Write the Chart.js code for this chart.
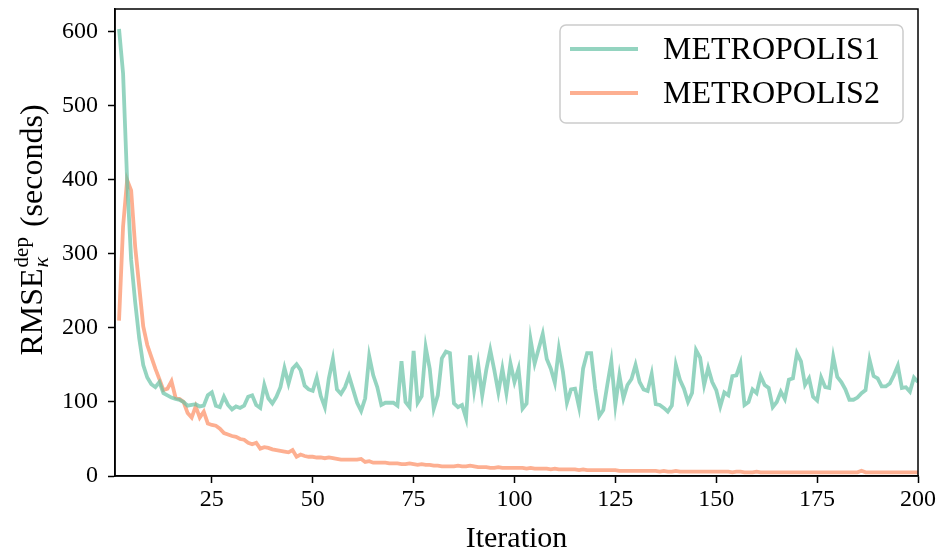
<!DOCTYPE html>
<html>
<head>
<meta charset="utf-8">
<script src="https://cdn.jsdelivr.net/npm/chart.js@4.4.0/dist/chart.umd.min.js"></script>
<style>
  html, body { margin: 0; padding: 0; background: #fff; }
  #wrap { width: 941px; height: 554px; }
</style>
</head>
<body>
<div id="wrap"><canvas id="rmseChart"></canvas></div>
<script>
// iterations 2..200
const iterations = Array.from({ length: 199 }, (_, i) => i + 2);

const metropolis1 = [
    604, 544, 400, 292, 235, 186, 150, 133, 124, 120, 127, 112, 109, 106, 104, 103, 100, 95, 96,
    97, 94, 95, 109, 113, 95, 93, 107, 96, 90, 94, 92, 95, 107, 109, 96, 92, 123, 105, 98,
    107, 120, 146, 125, 145, 151, 143, 122, 117, 115, 133, 108, 93, 132, 158, 117, 111, 120, 135,
    117, 99, 88, 105, 162, 136, 120, 96, 99, 99, 99, 95, 155, 100, 93, 169, 99, 108, 174, 145,
    91, 109, 159, 168, 166, 98, 93, 96, 78, 163, 116, 151, 109, 143, 170, 143, 113, 145, 112,
    152, 127, 145, 91, 98, 184, 152, 172, 192, 158, 145, 126, 172, 141, 99, 117, 118, 93, 145,
    166, 166, 118, 81, 89, 123, 155, 96, 136, 105, 123, 131, 150, 127, 117, 115, 138, 97, 96,
    92, 87, 95, 150, 130, 118, 100, 112, 170, 160, 123, 146, 127, 116, 94, 113, 109, 135, 136,
    152, 96, 100, 117, 112, 135, 123, 119, 93, 100, 114, 104, 130, 132, 166, 155, 123, 132, 107,
    102, 133, 120, 119, 161, 134, 127, 117, 103, 103, 106, 112, 116, 157, 135, 132, 121, 121, 125,
    136, 149, 119, 120, 114, 133, 127
];

const metropolis2 = [
    210, 337, 400, 386, 310, 256, 202, 177, 161, 145, 131, 116, 118, 128, 106, 104, 100, 85, 79,
    94, 79, 87, 71, 69, 68, 64, 58, 56, 54, 53, 50, 49, 45, 43, 45, 37, 39, 38, 36,
    35, 34, 33, 32, 35, 26, 29, 27, 26, 26, 25, 25, 24, 25, 24, 23, 22, 22, 22,
    22, 22, 23, 19, 20, 18, 18, 18, 18, 17, 17, 17, 16, 16, 17, 16, 15, 16, 15, 15,
    14, 14, 13, 13, 13, 13, 14, 13, 13, 14, 13, 12, 12, 12, 11, 11, 12, 11, 11,
    11, 11, 11, 11, 10, 11, 10, 10, 10, 10, 9, 10, 9, 9, 9, 9, 9, 8, 9,
    8, 8, 8, 8, 8, 8, 8, 8, 7, 7, 7, 7, 7, 7, 7, 7, 7, 7, 6,
    7, 6, 6, 7, 6, 6, 6, 6, 6, 6, 6, 6, 6, 6, 6, 6, 6, 5, 6,
    6, 5, 5, 5, 6, 5, 5, 5, 5, 5, 5, 5, 5, 5, 5, 5, 5, 5, 5,
    5, 5, 5, 5, 5, 5, 5, 5, 5, 5, 5, 7, 5, 5, 5, 5, 5, 5, 5,
    5, 5, 5, 5, 5, 5, 5
];

const xTicks = [25, 50, 75, 100, 125, 150, 175, 200];
const yTicks = [0, 100, 200, 300, 400, 500, 600];

const seriesNames = ['METROPOLIS1', 'METROPOLIS2'];
const seriesColors = ['rgba(102, 194, 165, 0.7)', 'rgba(252, 141, 98, 0.7)'];

const serif = "'Liberation Serif', 'DejaVu Serif', serif";

// black box round the plot area
const framePlugin = {
    id: 'frame',
    afterDatasetsDraw(chart) {
        const { ctx, chartArea: a } = chart;
        ctx.save();
        ctx.strokeStyle = '#000';
        ctx.lineWidth = 1.5;
        ctx.strokeRect(a.left, a.top, a.right - a.left, a.bottom - a.top);
        ctx.restore();
    }
};

// y title with super/subscript
const yTitlePlugin = {
    id: 'yTitle',
    afterDraw(chart) {
        const { ctx, chartArea: a } = chart;
        const cy = (a.top + a.bottom) / 2 - 12;
        ctx.save();
        ctx.translate(31, cy);
        ctx.rotate(-Math.PI / 2);
        ctx.fillStyle = '#000';
        ctx.textBaseline = 'alphabetic';
        ctx.textAlign = 'left';
        const big = '32px ' + serif, small = '21px ' + serif, smallIt = 'italic 22px ' + serif;
        ctx.font = big;
        const w1 = ctx.measureText('RMSE').width;
        const w3 = ctx.measureText(' (seconds)').width;
        ctx.font = small;
        const wSup = ctx.measureText('dep').width;
        ctx.font = smallIt;
        const wSub = ctx.measureText('\u03BA').width;
        const w2 = Math.max(wSup, wSub) + 2;
        let x = -(w1 + w2 + w3) / 2;
        const base = 11;
        ctx.font = big;
        ctx.fillText('RMSE', x, base);
        x += w1 + 1;
        ctx.font = small;
        ctx.fillText('dep', x, base - 14);
        ctx.font = smallIt;
        ctx.fillText('\u03BA', x, base + 6);
        x += w2;
        ctx.font = big;
        ctx.fillText(' (seconds)', x, base);
        ctx.restore();
    }
};

// legend box in the upper right of the plot
const legendPlugin = {
    id: 'boxLegend',
    afterDraw(chart) {
        const { ctx, chartArea: a } = chart;
        const right = a.right - 15, top = a.top + 16;
        const left = 560, bottom = top + 98;
        ctx.save();
        ctx.beginPath();
        ctx.roundRect(left, top, right - left, bottom - top, 6);
        ctx.fillStyle = 'rgba(255,255,255,0.8)';
        ctx.fill();
        ctx.strokeStyle = '#cccccc';
        ctx.lineWidth = 1.5;
        ctx.stroke();
        ctx.font = '32px ' + serif;
        ctx.textBaseline = 'middle';
        ctx.fillStyle = '#000';
        seriesNames.forEach((name, i) => {
            const y = top + 24 + i * 44;
            ctx.beginPath();
            ctx.moveTo(left + 10, y);
            ctx.lineTo(left + 78, y);
            ctx.strokeStyle = seriesColors[i];
            ctx.lineWidth = 3.8;
            ctx.stroke();
            ctx.fillText(name, left + 103, y + 2);
        });
        ctx.restore();
    }
};

const ctx = document.getElementById('rmseChart').getContext('2d');

new Chart(ctx, {
    type: 'line',
    data: {
        datasets: [{
                label: seriesNames[0],
                data: iterations.map((it, i) => ({ x: it, y: metropolis1[i] })),
                borderColor: seriesColors[0],
                borderWidth: 3.8,
                pointRadius: 0,
                tension: 0
            },
            {
                label: seriesNames[1],
                data: iterations.map((it, i) => ({ x: it, y: metropolis2[i] })),
                borderColor: seriesColors[1],
                borderWidth: 3.8,
                pointRadius: 0,
                tension: 0
            }
        ]
    },
    options: {
        responsive: true,
        maintainAspectRatio: false,
        animation: false,
        layout: { padding: { left: 0, right: 23, top: 9, bottom: 0 } },
        plugins: {
            legend: { display: false },
            tooltip: { enabled: false }
        },
        scales: {
            x: {
                type: 'linear',
                min: 1,
                max: 200,
                afterBuildTicks: (scale) => { scale.ticks = xTicks.map(v => ({ value: v })); },
                afterFit: (scale) => { scale.height = 78; },
                grid: {
                    drawOnChartArea: false,
                    drawTicks: true,
                    tickLength: 7,
                    tickWidth: 1.5,
                    tickColor: '#000'
                },
                border: { color: '#000', width: 1.5 },
                ticks: {
                    color: '#000',
                    padding: 2,
                    maxRotation: 0,
                    font: { family: serif, size: 24 }
                },
                title: {
                    display: true,
                    text: 'Iteration',
                    color: '#000',
                    padding: { top: 0, bottom: 0 },
                    font: { family: serif, size: 30, lineHeight: 1 }
                }
            },
            y: {
                min: 0,
                max: 631,
                afterBuildTicks: (scale) => { scale.ticks = yTicks.map(v => ({ value: v })); },
                afterFit: (scale) => {
                    scale.width = 115;
                    scale.paddingTop = 0;
                    scale.paddingBottom = 0;
                },
                grid: {
                    drawOnChartArea: false,
                    drawTicks: true,
                    tickLength: 7,
                    tickWidth: 1.5,
                    tickColor: '#000'
                },
                border: { color: '#000', width: 1.5 },
                ticks: {
                    color: '#000',
                    padding: 10,
                    font: { family: serif, size: 24 }
                }
            }
        }
    },
    plugins: [framePlugin, yTitlePlugin, legendPlugin]
});
</script>
</body>
</html>
